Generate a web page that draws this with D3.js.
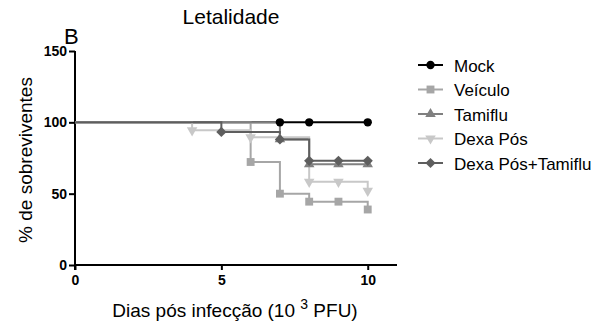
<!DOCTYPE html>
<html>
<head>
<meta charset="utf-8">
<script src="https://cdn.jsdelivr.net/npm/d3@7"></script>
<style>
  body { margin: 0; background: #fff; }
  svg { display: block; font-family: "Liberation Sans", Arial, sans-serif; }
</style>
</head>
<body>
<svg id="chart" width="613" height="331"></svg>
<script>
// survival data (day, % surviving) per group
const seriesNames = ['Mock', 'Veículo', 'Tamiflu', 'Dexa Pós', 'Dexa Pós+Tamiflu'];
const mockDays = [0, 7, 8, 10];
const mockValues = [100, 100, 100, 100];
const veiculoDays = [0, 6, 7, 8, 9, 10];
const veiculoValues = [100, 72.2, 50, 44.4, 44.4, 38.9];
const tamifluDays = [0, 7, 8, 9, 10];
const tamifluValues = [100, 88.2, 70.6, 70.6, 70.6];
const dexaDays = [0, 4, 6, 8, 9, 10];
const dexaValues = [100, 94.4, 89.5, 58.3, 58.3, 52];
const dexaTamiDays = [0, 5, 7, 8, 9, 10];
const dexaTamiValues = [100, 93.3, 88, 73, 73, 73];

const xTicks = [0, 5, 10];
const yTicks = [0, 50, 100, 150];

const colors = ['#000000', '#a6a6a6', '#808080', '#c8c8c8', '#5e5e5e'];
const symbols = ['circle', 'square', 'triUp', 'triDown', 'diamond'];

const groups = [
  [mockDays, mockValues],
  [veiculoDays, veiculoValues],
  [tamifluDays, tamifluValues],
  [dexaDays, dexaValues],
  [dexaTamiDays, dexaTamiValues]
].map((g, i) => ({
  name: seriesNames[i],
  pts: g[0].map((d, j) => ({ x: d, y: g[1][j] }))
}));

const svg = d3.select('#chart');
const x = d3.scaleLinear().domain([0, 11]).range([75, 397]);
const y = d3.scaleLinear().domain([0, 150]).range([265, 51]);

function symbolPath(s) {
  if (s === 'circle') return d3.symbol(d3.symbolCircle, 55)();
  if (s === 'square') return d3.symbol(d3.symbolSquare, 62)();
  if (s === 'triUp' || s === 'triDown') return d3.symbol(d3.symbolTriangle, 48)();
  return d3.symbol(d3.symbolSquare, 52)();
}
function symbolRot(s) {
  if (s === 'triDown') return ' rotate(180)';
  if (s === 'diamond') return ' rotate(45)';
  return '';
}

// axes
const xAxis = svg.append('g')
  .attr('transform', 'translate(0,265)')
  .call(d3.axisBottom(x).tickValues(xTicks).tickSize(5).tickPadding(5));
const yAxis = svg.append('g')
  .attr('transform', 'translate(75,0)')
  .call(d3.axisLeft(y).tickValues(yTicks).tickSize(6).tickPadding(2));
[xAxis, yAxis].forEach(a => {
  a.select('.domain').attr('stroke', '#000').attr('stroke-width', 2);
  a.selectAll('.tick line').attr('stroke', '#000').attr('stroke-width', 2);
  a.selectAll('.tick text')
    .attr('fill', '#000')
    .style('font-size', '14px')
    .style('font-weight', 'bold')
    .style('font-family', '"Liberation Sans", Arial, sans-serif');
});
xAxis.select('.domain').attr('d', 'M75,0H397');
yAxis.select('.domain').attr('d', 'M0,51V270');

// step lines
const line = d3.line()
  .x(d => x(d.x))
  .y(d => y(d.y))
  .curve(d3.curveStepAfter);

groups.forEach((g, i) => {
  svg.append('path')
    .datum(g.pts)
    .attr('fill', 'none')
    .attr('stroke', colors[i])
    .attr('stroke-width', 2)
    .attr('d', line);
});

// markers
groups.forEach((g, i) => {
  svg.append('g').selectAll('path')
    .data(g.pts.slice(1))
    .enter()
    .append('path')
    .attr('d', symbolPath(symbols[i]))
    .attr('transform', d => `translate(${x(d.x)},${y(d.y)})` + symbolRot(symbols[i]))
    .attr('fill', colors[i]);
});

// legend
const legend = svg.append('g');
seriesNames.forEach((n, i) => {
  const ly = 65 + i * 24.5;
  legend.append('line')
    .attr('x1', 418).attr('x2', 443)
    .attr('y1', ly).attr('y2', ly)
    .attr('stroke', colors[i]).attr('stroke-width', 2);
  legend.append('path')
    .attr('d', symbolPath(symbols[i]))
    .attr('transform', `translate(430.5,${ly})` + symbolRot(symbols[i]))
    .attr('fill', colors[i]);
  legend.append('text')
    .attr('x', 454).attr('y', ly + 6.5)
    .style('font-size', '17px')
    .attr('fill', '#000')
    .text(n);
});

// titles
svg.append('text')
  .attr('x', 231).attr('y', 24)
  .attr('text-anchor', 'middle')
  .style('font-size', '21px')
  .text('Letalidade');
svg.append('text')
  .attr('x', 64).attr('y', 44)
  .style('font-size', '22px')
  .text('B');

svg.append('text')
  .attr('transform', 'translate(32,160) rotate(-90)')
  .attr('text-anchor', 'middle')
  .style('font-size', '19px')
  .text('% de sobreviventes');

const xl = svg.append('text')
  .attr('x', 235).attr('y', 317)
  .attr('text-anchor', 'middle')
  .style('font-size', '19px');
xl.append('tspan').text('Dias pós infecção (10 ');
xl.append('tspan').attr('dy', -8).style('font-size', '14px').text('3');
xl.append('tspan').attr('dy', 8).text(' PFU)');
</script>
</body>
</html>
